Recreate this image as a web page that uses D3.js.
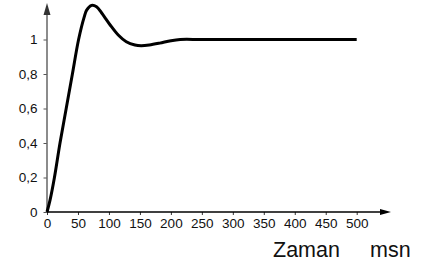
<!DOCTYPE html>
<html>
<head>
<meta charset="utf-8">
<script src="https://cdn.jsdelivr.net/npm/d3@7"></script>
<style>
  body { margin: 0; background: #fff; }
  svg { display: block; font-family: "Liberation Sans", Arial, sans-serif; }
</style>
</head>
<body>
<div id="chart"></div>
<script>
// --- Data ---
const timeMs = [0, 5, 12, 21, 31, 41, 51, 60, 64, 72, 80, 88, 95, 102, 115, 128, 142, 152, 165, 182, 200, 215, 250, 350, 500];
const response = [0, 0.07, 0.2, 0.4, 0.6, 0.8, 1.0, 1.13, 1.17, 1.198, 1.19, 1.155, 1.12, 1.084, 1.026, 0.987, 0.968, 0.964, 0.968, 0.979, 0.993, 1.0, 1.0, 1.0, 1.0];
const xTicks = [0, 50, 100, 150, 200, 250, 300, 350, 400, 450, 500];
const yTicks = [0, 0.2, 0.4, 0.6, 0.8, 1];
const xLabel = "Zaman";
const xUnit = "msn";

const width = 425, height = 266;

const svg = d3.select("#chart").append("svg")
    .attr("width", width)
    .attr("height", height);

const x = d3.scaleLinear().domain([0, 500]).range([47, 356.7]);
const y = d3.scaleLinear().domain([0, 1]).range([212, 39.5]);

// Turkish style decimals: 0,2
const trFormat = d3.formatLocale({ decimal: ",", thousands: ".", grouping: [3], currency: ["", ""] }).format("~g");

// --- X axis ---
const xAxis = svg.append("g")
    .attr("transform", `translate(0,${y(0)})`)
    .call(d3.axisBottom(x).tickValues(xTicks).tickSize(3).tickSizeOuter(0).tickPadding(3).tickFormat(d3.format("d")));
xAxis.select(".domain").remove();
xAxis.selectAll(".tick line").attr("stroke", "#333");
xAxis.selectAll(".tick text")
    .attr("font-family", "Liberation Sans, Arial, sans-serif")
    .attr("font-size", 13.5)
    .attr("fill", "#111");

svg.append("line")
    .attr("x1", x(0)).attr("x2", 381)
    .attr("y1", y(0)).attr("y2", y(0))
    .attr("stroke", "#000")
    .attr("stroke-width", 1.3);
svg.append("path")
    .attr("d", `M380,${y(0) - 3}L391,${y(0)}L380,${y(0) + 3}Z`)
    .attr("fill", "#000");

// --- Y axis ---
const yAxis = svg.append("g")
    .attr("transform", `translate(${x(0)},0)`)
    .call(d3.axisLeft(y).tickValues(yTicks).tickSize(3.5).tickSizeOuter(0).tickPadding(6).tickFormat(trFormat));
yAxis.select(".domain").remove();
yAxis.selectAll(".tick line").attr("stroke", "#555");
yAxis.selectAll(".tick text")
    .attr("font-family", "Liberation Sans, Arial, sans-serif")
    .attr("font-size", 13.5)
    .attr("fill", "#111");

svg.append("line")
    .attr("x1", x(0)).attr("x2", x(0))
    .attr("y1", y(0)).attr("y2", 14)
    .attr("stroke", "#666")
    .attr("stroke-width", 1.5);
svg.append("path")
    .attr("d", `M${x(0) - 3.5},15L${x(0)},3L${x(0) + 3.5},15Z`)
    .attr("fill", "#333");

// --- Step response curve ---
const points = timeMs.map((t, i) => [t, response[i]]);
const line = d3.line()
    .x(d => x(d[0]))
    .y(d => y(d[1]))
    .curve(d3.curveCatmullRom.alpha(0.5));

svg.append("path")
    .datum(points)
    .attr("d", line)
    .attr("fill", "none")
    .attr("stroke", "#000")
    .attr("stroke-width", 3)
    .attr("stroke-linejoin", "round");

// --- Axis title ---
svg.append("text")
    .attr("x", 273)
    .attr("y", 257)
    .attr("font-size", 21.5)
    .attr("fill", "#111")
    .text(xLabel);
svg.append("text")
    .attr("x", 370)
    .attr("y", 257)
    .attr("font-size", 21.5)
    .attr("fill", "#111")
    .text(xUnit);
</script>
</body>
</html>
